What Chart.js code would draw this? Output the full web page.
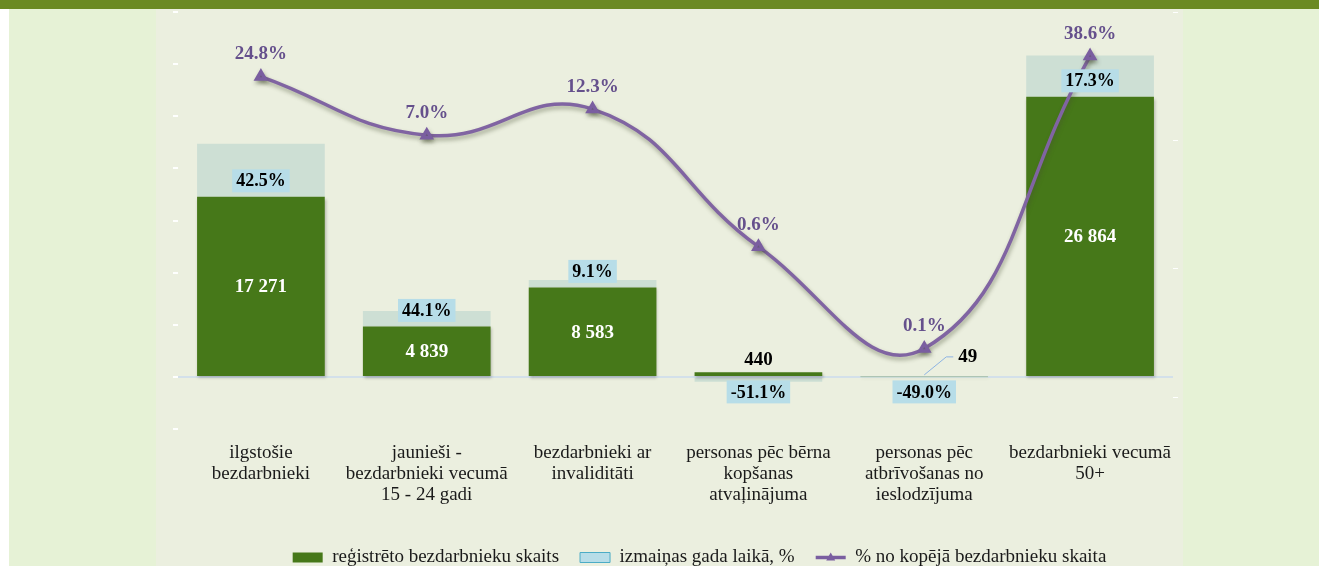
<!DOCTYPE html>
<html>
<head>
<meta charset="utf-8">
<script src="https://cdn.jsdelivr.net/npm/chart.js@4.4.1/dist/chart.umd.min.js"></script>
<style>
  html, body { margin: 0; padding: 0; background: #fff; }
  #wrap { position: relative; width: 1319px; height: 566px; overflow: hidden; }
  .bg-outer { position: absolute; left: 9px; top: 0; right: 0; bottom: 0; background: #e6f2d6; }
  .bg-panel { position: absolute; left: 156px; top: 9px; width: 1027px; bottom: 0; background: #ebefdf; }
  .bg-band { position: absolute; left: 0; top: 0; right: 0; height: 9px; background: #6b8a23; }
  canvas { position: absolute; left: 0; top: 0; }
</style>
</head>
<body>
<div id="wrap">
  <div class="bg-outer"></div>
  <div class="bg-panel"></div>
  <div class="bg-band"></div>
  <canvas id="chart" width="1319" height="566"></canvas>
</div>
<script>
// --- dati ---
const kategorijas = [
  ['ilgstošie', 'bezdarbnieki'],
  ['jaunieši -', 'bezdarbnieki vecumā', '15 - 24 gadi'],
  ['bezdarbnieki ar', 'invaliditāti'],
  ['personas pēc bērna', 'kopšanas', 'atvaļinājuma'],
  ['personas pēc', 'atbrīvošanas no', 'ieslodzījuma'],
  ['bezdarbnieki vecumā', '50+']
];
const skaits = [17271, 4839, 8583, 440, 49, 26864];          // reģistrēto bezdarbnieku skaits
const izmainasSkaits = [5100, 1480, 720, -460, -47, 3960];   // izmaiņas gada laikā (absolūti)
const izmainasPct = [42.5, 44.1, 9.1, -51.1, -49.0, 17.3];   // izmaiņas gada laikā, %
const dalaPct = [24.8, 7.0, 12.3, 0.63, 0.07, 38.6];         // % no kopējā bezdarbnieku skaita
const labiTicks = [100, 6.25, 0.390625, 0.0244140625];       // labās ass iedaļas

const SERIF = '"Liberation Serif", "Times New Roman", serif';
const nf = n => String(n).replace(/\B(?=(\d{3})+(?!\d))/g, ' ');
const pct = v => v.toFixed(1) + '%';

// ēnas stabiņiem un līnijai
const enas = {
  id: 'enas',
  beforeDatasetDraw(chart, args) {
    const ctx = chart.ctx;
    ctx.save();
    if (args.index === 2) {
      ctx.shadowColor = 'rgba(70,80,50,0.45)';
      ctx.shadowBlur = 4; ctx.shadowOffsetX = 1; ctx.shadowOffsetY = 3;
    } else if (args.index === 0) {
      ctx.shadowColor = 'rgba(0,0,0,0.25)';
      ctx.shadowBlur = 3; ctx.shadowOffsetX = 1; ctx.shadowOffsetY = 2;
    }
  },
  afterDatasetDraw(chart) { chart.ctx.restore(); }
};

// datu etiķetes
const etiketes = {
  id: 'etiketes',
  afterDatasetsDraw(chart) {
    const ctx = chart.ctx;
    const barMeta = chart.getDatasetMeta(0);
    const lineMeta = chart.getDatasetMeta(2);
    ctx.save();
    ctx.textAlign = 'center';
    ctx.textBaseline = 'middle';

    barMeta.data.forEach((bar, i) => {
      const base = bar.base;
      const h = base - bar.y;
      ctx.font = 'bold 19px ' + SERIF;
      if (h > 30) {
        ctx.fillStyle = '#fff';
        ctx.fillText(nf(skaits[i]), bar.x, (bar.y + base) / 2 + 1);
      } else if (h > 3) {
        ctx.fillStyle = '#000';
        ctx.fillText(nf(skaits[i]), bar.x, bar.y - 12);
      } else {
        // ļoti mazs stabiņš - etiķete sānis ar norādes līniju
        ctx.strokeStyle = '#8db3e2';
        ctx.lineWidth = 1;
        ctx.beginPath();
        ctx.moveTo(bar.x, base - 1);
        ctx.lineTo(bar.x + 22, base - 19);
        ctx.lineTo(bar.x + 29, base - 19);
        ctx.stroke();
        ctx.fillStyle = '#000';
        ctx.textAlign = 'left';
        ctx.fillText(nf(skaits[i]), bar.x + 34, base - 19);
        ctx.textAlign = 'center';
      }

      // izmaiņas %
      const txt = pct(izmainasPct[i]);
      ctx.font = 'bold 18px ' + SERIF;
      const w = ctx.measureText(txt).width + 8;
      const cy = izmainasPct[i] >= 0 ? bar.y - 16 : base + 16;
      ctx.fillStyle = '#b7dde8';
      ctx.fillRect(bar.x - w / 2, cy - 11.5, w, 23);
      ctx.fillStyle = '#000';
      ctx.fillText(txt, bar.x, cy + 1);
    });

    ctx.font = 'bold 19px ' + SERIF;
    ctx.fillStyle = '#65508c';
    lineMeta.data.forEach((pt, i) => {
      ctx.fillText(pct(dalaPct[i]), pt.x, pt.y - 22);
    });

    // trīsstūris leģendas līnijai
    const lg = chart.legend;
    if (lg && lg.legendHitBoxes && lg.legendHitBoxes[2]) {
      const hb = lg.legendHitBoxes[2];
      const cx = hb.left + 15, cy = hb.top + hb.height / 2;
      ctx.fillStyle = '#7a5ea0';
      ctx.beginPath();
      ctx.moveTo(cx, cy - 5);
      ctx.lineTo(cx + 4.5, cy + 3);
      ctx.lineTo(cx - 4.5, cy + 3);
      ctx.closePath();
      ctx.fill();
    }
    ctx.restore();
  }
};

const ctx = document.getElementById('chart').getContext('2d');
new Chart(ctx, {
  data: {
    labels: kategorijas,
    datasets: [
      {
        type: 'bar',
        label: 'reģistrēto bezdarbnieku skaits',
        data: skaits,
        backgroundColor: '#467819',
        borderWidth: 0,
        stack: 'a',
        order: 1,
        categoryPercentage: 1,
        barPercentage: 0.77
      },
      {
        type: 'bar',
        label: 'izmaiņas gada laikā, %',
        data: izmainasSkaits,
        backgroundColor: '#cddfd4',
        borderWidth: 0,
        stack: 'a',
        order: 1,
        categoryPercentage: 1,
        barPercentage: 0.77
      },
      {
        type: 'line',
        label: '% no kopējā bezdarbnieku skaita',
        data: dalaPct,
        yAxisID: 'y1',
        borderColor: '#8064a2',
        borderWidth: 3.5,
        tension: 0.45,
        fill: false,
        pointStyle: 'triangle',
        pointRadius: 5,
        pointBackgroundColor: '#7a5ea0',
        pointBorderColor: '#7a5ea0',
        order: 0
      }
    ]
  },
  options: {
    responsive: false,
    animation: false,
    layout: { padding: { left: 80, top: 12, right: 0, bottom: 0 } },
    plugins: {
      tooltip: { enabled: false },
      legend: {
        position: 'bottom',
        maxHeight: 39,
        labels: {
          usePointStyle: true,
          pointStyleWidth: 30,
          boxHeight: 10,
          padding: 21,
          color: '#1a1a1a',
          font: { family: SERIF, size: 19 },
          sort: (a, b) => a.datasetIndex - b.datasetIndex,
          generateLabels(chart) {
            const items = Chart.defaults.plugins.legend.labels.generateLabels(chart);
            items.forEach(it => {
              if (it.datasetIndex === 0) { it.pointStyle = 'rect'; it.lineWidth = 0; }
              if (it.datasetIndex === 1) {
                it.pointStyle = 'rect';
                it.fillStyle = '#b7dde8';
                it.strokeStyle = '#4bacc6';
                it.lineWidth = 1;
              }
              if (it.datasetIndex === 2) { it.pointStyle = 'line'; it.lineWidth = 3.5; }
            });
            return items;
          }
        }
      }
    },
    scales: {
      x: {
        stacked: true,
        grid: { display: false },
        border: { display: false },
        ticks: {
          color: '#1a1a1a',
          font: { family: SERIF, size: 19, lineHeight: 1.12 },
          padding: 5,
          maxRotation: 0,
          autoSkip: false
        },
        afterFit: s => { s.height = 98; }
      },
      y: {
        stacked: true,
        min: -5000,
        max: 35000,
        ticks: { stepSize: 5000, display: false },
        grid: {
          color: c => (c.tick && c.tick.value === 0 ? '#d3e0ea' : 'rgba(0,0,0,0)'),
          lineWidth: 2,
          tickColor: 'rgba(255,255,255,0.95)',
          tickLength: 5
        },
        border: { display: false },
        afterFit: s => { s.width = 98; }
      },
      y1: {
        type: 'logarithmic',
        position: 'right',
        min: 0.0123,
        max: 100,
        ticks: { display: false },
        afterBuildTicks: s => { s.ticks = labiTicks.map(v => ({ value: v })); },
        grid: { drawOnChartArea: false, color: 'rgba(255,255,255,0.95)', tickLength: 5 },
        border: { display: false },
        afterFit: s => { s.width = 146; }
      }
    }
  },
  plugins: [enas, etiketes]
});
</script>
</body>
</html>
